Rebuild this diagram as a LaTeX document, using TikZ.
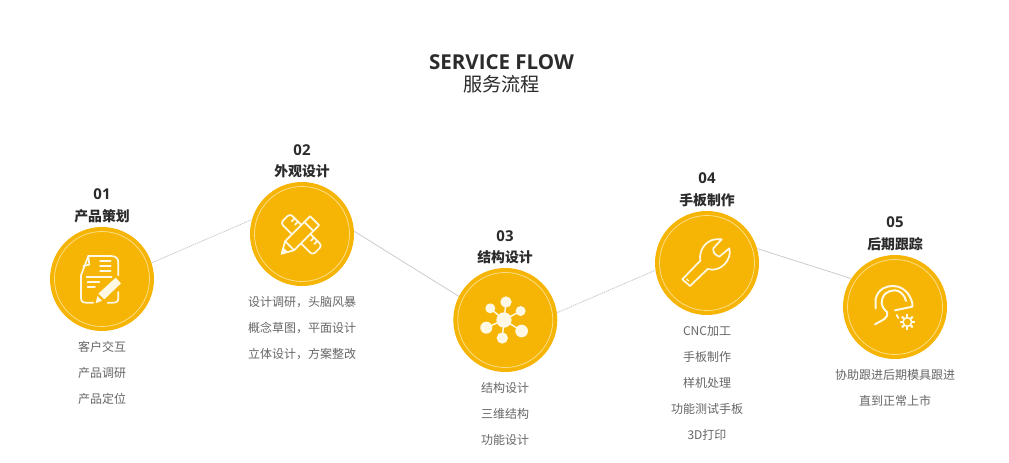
\documentclass[tikz,border=0pt]{standalone}
\usepackage{fontspec}
\setmainfont{Open Sans}
\newfontfamily\cjk{Noto Sans CJK SC}
\definecolor{amber}{HTML}{F6B504}
\definecolor{iconw}{HTML}{FFF8E4}
\definecolor{ringc}{HTML}{FBDD85}
\definecolor{ink}{HTML}{2B2B2B}
\definecolor{body}{HTML}{666666}
\definecolor{link}{HTML}{C9C9C9}
\tikzset{
  stepdisc/.style={circle,fill=amber,draw=none,minimum size=78pt,inner sep=0pt},
  ringline/.style={draw=ringc,line width=.6pt},
  linkline/.style={draw=link,line width=.55pt},
  dotlink/.style={draw=link,line width=.6pt,dash pattern=on 1pt off .6pt},
  numtext/.style={font=\fontsize{11.2pt}{13pt}\selectfont\bfseries,text=ink,inner sep=0pt},
  headtext/.style={font=\cjk\fontsize{10.4pt}{12pt}\selectfont\bfseries,text=ink,inner sep=0pt},
  bodytext/.style={font=\cjk\fontsize{9pt}{11pt}\selectfont,text=body,inner sep=0pt},
  iconline/.style={draw=iconw,line width=1.3pt,line cap=round,line join=round},
  iconlocal/.style={x=.25pt,y=-.25pt}
}
\begin{document}
\begin{tikzpicture}[x=.75pt,y=-.75pt]
\useasboundingbox (0,0) rectangle (1009,463);
\fill[white] (0,0) rectangle (1009,463);
% title
\node[inner sep=0pt,text=ink,font=\fontsize{15.4pt}{18pt}\selectfont\bfseries] (title) at (501.5,62) {SERVICE FLOW};
\node[inner sep=0pt,text=ink,font=\cjk\fontsize{14.4pt}{18pt}\selectfont] (subtitle) at (501.5,84.5) {服务流程};
% discs
\node[stepdisc] (c1) at (102,279) {};
\node[stepdisc] (c2) at (302,234) {};
\node[stepdisc] (c3) at (505.3,320) {};
\node[stepdisc] (c4) at (707,263) {};
\node[stepdisc] (c5) at (895,307) {};
\foreach \c in {c1,c2,c3,c4,c5} \draw[ringline] (\c) circle[radius=47.5];
% connectors
\draw[dotlink] (c1.18) -- (c2.164);
\draw[linkline] (c2.3) -- (c3.153);
\draw[dotlink] (c3.8) -- (c4.188);
\draw[linkline] (c4.16) -- (c5.147);
% labels
\node[numtext] (n1) at (102,194.5) {01};
\node[headtext] (h1) at (102,216.5) {产品策划};
\node[bodytext] (b11) at (102,347) {客户交互};
\node[bodytext] (b12) at (102,373) {产品调研};
\node[bodytext] (b13) at (102,399) {产品定位};
\node[numtext] (n2) at (302,150) {02};
\node[headtext] (h2) at (302,171.5) {外观设计};
\node[bodytext] (b21) at (302,302) {设计调研，头脑风暴};
\node[bodytext] (b22) at (302,328) {概念草图，平面设计};
\node[bodytext] (b23) at (302,354) {立体设计，方案整改};
\node[numtext] (n3) at (505,236) {03};
\node[headtext] (h3) at (505,257.5) {结构设计};
\node[bodytext] (b31) at (505,388) {结构设计};
\node[bodytext] (b32) at (505,414) {三维结构};
\node[bodytext] (b33) at (505,440) {功能设计};
\node[numtext] (n4) at (707,178.5) {04};
\node[headtext] (h4) at (707,200.5) {手板制作};
\node[bodytext] (b41) at (707,331) {CNC加工};
\node[bodytext] (b42) at (707,357) {手板制作};
\node[bodytext] (b43) at (707,383) {样机处理};
\node[bodytext] (b44) at (707,409) {功能测试手板};
\node[bodytext] (b45) at (707,435) {3D打印};
\node[numtext] (n5) at (895,222.5) {05};
\node[headtext] (h5) at (895,244.5) {后期跟踪};
\node[bodytext] (b51) at (895,375) {协助跟进后期模具跟进};
\node[bodytext] (b52) at (895,401) {直到正常上市};
% icon 1: document and pencil
\begin{scope}[shift={(c1.center)},iconlocal,xshift=-39pt,yshift=40.25pt]
 \draw[iconline] (115,92) -- (182,92) .. controls (196,92) and (205,98) .. (205,112) -- (205,150);
 \draw[iconline] (115,92) -- (93,150) -- (93,218) .. controls (93,228) and (98,232) .. (108,232) -- (132,232);
 \draw[iconline] (115,92) -- (118,118) -- (100,122);
 \draw[iconline] (205,200) -- (205,218) .. controls (205,228) and (200,232) .. (190,232) -- (172,232);
 \foreach \yy in {108,122,137} \draw[iconline] (150,\yy) -- (182,\yy);
 \draw[iconline] (110,155) -- (185,155);
 \draw[iconline] (113,170) -- (148,170);
 \draw[iconline] (113,185) -- (135,185);
 \fill[amber] (130,238) -- (140,200) -- (195,150) -- (222,175) -- (170,232) -- cycle;
 \fill[iconw] (145,205) -- (197,157) -- (213,174) -- (163,222) -- cycle;
 \fill[iconw] (137,234) -- (142,212) -- (156,226) -- cycle;
\end{scope}
% icon 2: crossed ruler and pencil
\begin{scope}[shift={(c2.center)},iconlocal]
 \begin{scope}[shift={(-2,1)},rotate=-45]
  \draw[iconline,rounded corners=2.5pt] (-68,-20) rectangle (68,20);
  \foreach \xx in {-48,-34,34,48} \draw[iconline] (\xx,-20) -- (\xx,-7);
 \end{scope}
 \begin{scope}[shift={(-9,7)},rotate=45]
  \draw[iconline,fill=amber] (-74,0) -- (-40,-19) -- (66,-19) -- (66,19) -- (-40,19) -- cycle;
  \draw[iconline] (-40,-19) -- (-40,19);
  \draw[iconline] (42,-19) -- (42,19);
  \fill[iconw] (-74,0) -- (-57,-10) -- (-57,10) -- cycle;
 \end{scope}
\end{scope}
% icon 3: network
\begin{scope}[shift={(c3.center)},iconlocal]
 \coordinate (hub) at (-4,0);
 \foreach \xx/\yy/\rr in {2/-54/17,-45/-35/15,46/-27/15,-57/23/18,49/33/19,-9/54/17} {
  \draw[iconline,line width=1.1pt] (hub) -- (\xx,\yy);
  \fill[iconw] (\xx,\yy) circle[radius=\rr];
 }
 \fill[iconw] (hub) circle[radius=23];
\end{scope}
% icon 4: wrench
\begin{scope}[shift={(c4.center)},iconlocal]
 \draw[iconline] (-74,49) -- (-20,-7) .. controls (-26,-40) and (0,-78) .. (44,-71) -- (19,-44) .. controls (17,-32) and (24,-24) .. (37,-19) -- (67,-44) .. controls (76,-10) and (40,30) .. (2,18) -- (-51,69) -- cycle;
 \draw[iconline,line width=.9pt] (-61,48) -- (-55,54);
\end{scope}
% icon 5: head with headset and gear
\begin{scope}[shift={(c5.center)},iconlocal]
 \draw[iconline,line width=1.5pt] (-58,4) -- (-58,-25) .. controls (-50,-55) and (-25,-63) .. (-8,-63) .. controls (25,-63) and (45,-40) .. (52,-11) -- (52,-1) -- (0,10);
 \draw[iconline,line width=1.5pt] (-40,-10) .. controls (-40,-40) and (-20,-50) .. (0,-50) .. controls (15,-50) and (30,-35) .. (33,-18);
 \draw[iconline,line width=1.5pt] (-40,-10) .. controls (-36,5) and (-30,10) .. (-24,15) .. controls (-20,35) and (-35,37) .. (-60,52);
 \draw[iconline] (5,24) -- (10,33);
 \begin{scope}[shift={(37,45)}]
  \foreach \aa in {0,45,...,315} \draw[iconline,line width=1.5pt,line cap=butt] (\aa:13) -- (\aa:23);
  \draw[iconline,line width=1.15pt,fill=amber] (0,0) circle[radius=13];
 \end{scope}
\end{scope}
\end{tikzpicture}
\end{document}
